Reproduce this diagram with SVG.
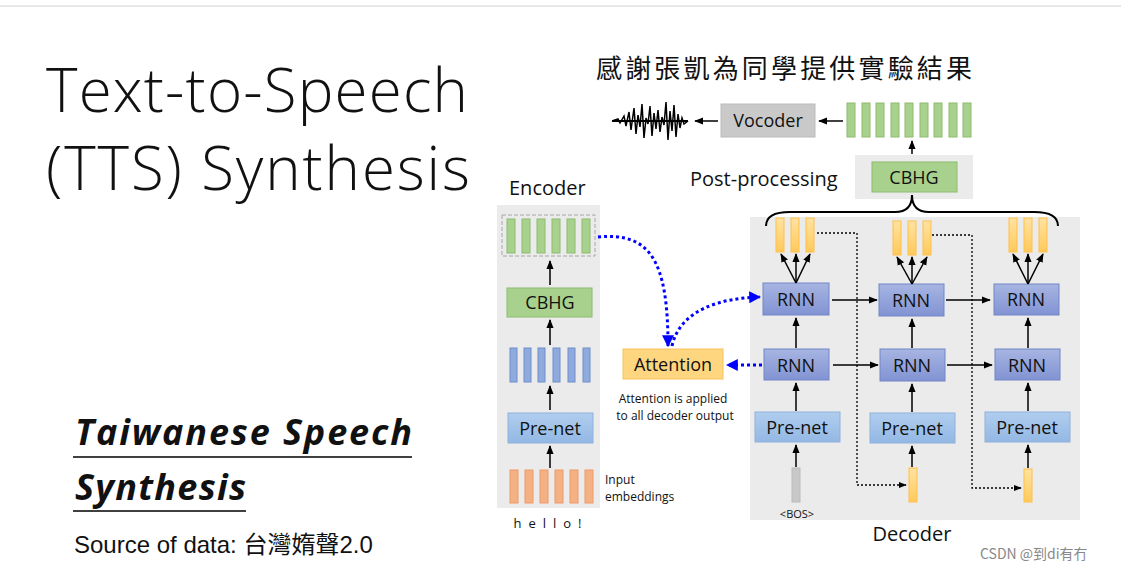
<svg xmlns="http://www.w3.org/2000/svg" width="1121" height="572" viewBox="0 0 1121 572">
<defs>
<marker id="ah" viewBox="0 0 10 10" refX="9" refY="5" markerWidth="6" markerHeight="6" orient="auto"><path d="M0,1 L10,5 L0,9 z" fill="#000"/></marker>
<marker id="bh" viewBox="0 0 10 10" refX="9" refY="5" markerWidth="4" markerHeight="4" orient="auto"><path d="M0,0 L10,5 L0,10 z" fill="#0000ff"/></marker>
<linearGradient id="rg" x1="0" y1="0" x2="0" y2="1"><stop offset="0" stop-color="#a7b5e2"/><stop offset="1" stop-color="#8193d3"/></linearGradient>
<linearGradient id="pg" x1="0" y1="0" x2="0" y2="1"><stop offset="0" stop-color="#b0cdee"/><stop offset="1" stop-color="#93b8e4"/></linearGradient>
<linearGradient id="yg" x1="0" y1="0" x2="0" y2="1"><stop offset="0" stop-color="#ffe3a0"/><stop offset="1" stop-color="#ffc95c"/></linearGradient>
</defs>
<style>
text{font-family:"Open Sans","Noto Sans CJK TC",sans-serif;fill:#111}
.c{text-anchor:middle}
.rnn{fill:url(#rg);stroke:#7285c6;stroke-width:1}
.pre{fill:url(#pg);stroke:#8fb1dc;stroke-width:1}
.gb{fill:#a9d18e;stroke:#8cbc6e;stroke-width:1}
.bb{fill:#8faadc;stroke:#6f8fcc;stroke-width:1}
.ob{fill:#f4b183;stroke:#f09a66;stroke-width:1}
.yb{fill:url(#yg);stroke:#ffc04a;stroke-width:1}
.a{stroke:#000;stroke-width:1.5;fill:none;marker-end:url(#ah)}
.d{stroke:#000;stroke-width:1.3;fill:none;stroke-dasharray:2 2;marker-end:url(#ah)}
.bl{stroke:#0000ff;stroke-width:3;fill:none;stroke-dasharray:3 3;marker-end:url(#bh)}
.bt{font-size:18px}
</style>
<rect width="1121" height="572" fill="#fff"/>
<line x1="0" y1="6" x2="1121" y2="6" stroke="#d0d0d0"/>
<text x="46" y="112" font-size="60" font-weight="300" textLength="422">Text-to-Speech</text>
<text x="46" y="190" font-size="60" font-weight="300" textLength="424">(TTS) Synthesis</text>
<text x="75" y="445" font-size="36" font-weight="bold" font-style="italic" textLength="337">Taiwanese Speech</text>
<line x1="73" y1="457" x2="412" y2="457" stroke="#000" stroke-width="1.5"/>
<text x="75" y="500" font-size="36" font-weight="bold" font-style="italic" textLength="171">Synthesis</text>
<line x1="73" y1="511" x2="246" y2="511" stroke="#000" stroke-width="1.5"/>
<text x="74" y="553" font-size="24" style="font-family:'Liberation Sans','Noto Sans CJK TC',sans-serif">Source of data: 台灣媠聲2.0</text>
<text x="596" y="78" font-size="26" textLength="376" style="font-family:'Noto Sans CJK TC',sans-serif">感謝張凱為同學提供實驗結果</text>
<g id="waveform"><path d="M612,121 L618,119 L620,123 L624,116 L626,126 L629,112 L631,130 L634,108 L636,134 L638,115 L640,127 L642,104 L644,138 L646,118 L648,124 L650,106 L652,136 L654,113 L656,129 L658,110 L660,132 L662,117 L664,125 L666,102 L668,140 L670,111 L672,131 L674,105 L676,137 L678,114 L680,128 L682,118 L684,124 L688,121" stroke="#000" stroke-width="1.5" fill="none"/><line x1="612" y1="121" x2="688" y2="121" stroke="#000" stroke-width="2"/></g>
<g id="vocoder"><rect x="721" y="104" width="94" height="33" fill="#c9c9c9" stroke="#bbb"/><text x="768" y="127" class="c bt">Vocoder</text></g>
<g id="melbars">
<rect x="847" y="103" width="8" height="34" class="gb"/><rect x="862" y="103" width="8" height="34" class="gb"/><rect x="876" y="103" width="8" height="34" class="gb"/><rect x="891" y="103" width="8" height="34" class="gb"/><rect x="905" y="103" width="8" height="34" class="gb"/><rect x="920" y="103" width="8" height="34" class="gb"/><rect x="934" y="103" width="8" height="34" class="gb"/><rect x="949" y="103" width="8" height="34" class="gb"/><rect x="963" y="103" width="8" height="34" class="gb"/>
</g>
<g id="postprocessing"><rect x="855" y="155" width="118" height="44" fill="#ebebeb"/><rect x="872" y="162" width="85" height="30" class="gb"/><text x="914" y="184" class="c bt">CBHG</text>
<text x="690" y="186" font-size="20">Post-processing</text></g>
<g id="encoder">
<text x="509" y="195" font-size="20">Encoder</text>
<rect x="497" y="205" width="103" height="303" fill="#ebebeb"/>
<rect x="502" y="215" width="93" height="41" fill="none" stroke="#a6a6a6" stroke-dasharray="4 2"/>
<rect x="507" y="219" width="8" height="34" class="gb"/><rect x="522" y="219" width="8" height="34" class="gb"/><rect x="537" y="219" width="8" height="34" class="gb"/><rect x="552" y="219" width="8" height="34" class="gb"/><rect x="567" y="219" width="8" height="34" class="gb"/><rect x="582" y="219" width="8" height="34" class="gb"/>
<rect x="507" y="288" width="85" height="29" class="gb"/><text x="550" y="309" class="c bt">CBHG</text>
<rect x="510" y="348" width="7" height="34" class="bb"/><rect x="524" y="348" width="7" height="34" class="bb"/><rect x="538" y="348" width="7" height="34" class="bb"/><rect x="553" y="348" width="7" height="34" class="bb"/><rect x="568" y="348" width="7" height="34" class="bb"/><rect x="583" y="348" width="7" height="34" class="bb"/>
<rect x="508" y="413" width="85" height="30" class="pre"/><text x="550" y="435" class="c bt">Pre-net</text>
<rect x="510" y="470" width="8" height="33" class="ob"/><rect x="525" y="470" width="8" height="33" class="ob"/><rect x="540" y="470" width="8" height="33" class="ob"/><rect x="555" y="470" width="8" height="33" class="ob"/><rect x="570" y="470" width="8" height="33" class="ob"/><rect x="585" y="470" width="8" height="33" class="ob"/>
<text x="551" y="528" class="c" font-size="13" letter-spacing="7">hello!</text>
<text x="605" y="484" font-size="12">Input</text><text x="605" y="501" font-size="12">embeddings</text>
</g>
<g id="attention"><rect x="623" y="349" width="100" height="30" fill="#ffd680" stroke="#f5c25a"/><text x="673" y="371" class="c bt">Attention</text>
<text x="673" y="403" class="c" font-size="12">Attention is applied</text><text x="675" y="420" class="c" font-size="12">to all decoder output</text></g>
<g id="decoder">
<rect x="750" y="217" width="330" height="303" fill="#ebebeb"/>
<text x="912" y="541" class="c" font-size="20">Decoder</text>
<rect x="763" y="283" width="66" height="32" class="rnn"/><text x="796" y="306" class="c bt">RNN</text>
<rect x="764" y="349" width="65" height="31" class="rnn"/><text x="796" y="372" class="c bt">RNN</text>
<rect x="755" y="412" width="85" height="30" class="pre"/><text x="797" y="434" class="c bt">Pre-net</text>
<rect x="792" y="468" width="8" height="34" fill="#c8c8c8" stroke="#bbb"/><text x="797" y="518" class="c" font-size="11">&lt;BOS&gt;</text>
<rect x="879" y="284" width="65" height="32" class="rnn"/><text x="911" y="307" class="c bt">RNN</text>
<rect x="880" y="349" width="65" height="32" class="rnn"/><text x="912" y="372" class="c bt">RNN</text>
<rect x="870" y="413" width="85" height="30" class="pre"/><text x="912" y="435" class="c bt">Pre-net</text>
<rect x="909" y="468" width="8" height="34" class="yb"/>
<rect x="994" y="284" width="65" height="31" class="rnn"/><text x="1026" y="306" class="c bt">RNN</text>
<rect x="995" y="349" width="65" height="31" class="rnn"/><text x="1027" y="372" class="c bt">RNN</text>
<rect x="985" y="412" width="85" height="30" class="pre"/><text x="1027" y="434" class="c bt">Pre-net</text>
<rect x="1024" y="469" width="8" height="33" class="yb"/>
<rect x="776" y="218" width="8" height="34" class="yb"/><rect x="791" y="218" width="8" height="34" class="yb"/><rect x="806" y="218" width="8" height="34" class="yb"/>
<rect x="893" y="221" width="8" height="34" class="yb"/><rect x="908" y="221" width="8" height="34" class="yb"/><rect x="923" y="221" width="8" height="34" class="yb"/>
<rect x="1009" y="218" width="8" height="34" class="yb"/><rect x="1024" y="218" width="8" height="34" class="yb"/><rect x="1039" y="218" width="8" height="34" class="yb"/>
</g>
<g id="connectors">
<path d="M718,121 H695" class="a"/>
<path d="M843,121 H819" class="a"/>
<path d="M912,154 V141" class="a"/>
<path d="M766,226 Q766,212 790,212 L895,212 Q912,212 912,195 Q912,212 929,212 L1034,212 Q1058,212 1058,226" stroke="#000" stroke-width="2" fill="none"/>
<path d="M550,285 V261" class="a"/><path d="M550,345 V320" class="a"/><path d="M550,410 V386" class="a"/><path d="M550,468 V446" class="a"/>
<path d="M598,237 C650,232 668,260 668,346" class="bl"/>
<path d="M672,346 C680,310 720,298 760,297" class="bl"/>
<path d="M762,365 H727" class="bl"/>
<path d="M796,283 L781,254" class="a"/><path d="M796,283 V254" class="a"/><path d="M796,283 L810,254" class="a"/>
<path d="M912,284 L897,257" class="a"/><path d="M912,284 V257" class="a"/><path d="M912,284 L927,257" class="a"/>
<path d="M1028,284 L1013,254" class="a"/><path d="M1028,284 V254" class="a"/><path d="M1028,284 L1043,254" class="a"/>
<path d="M832,300 H877" class="a"/><path d="M946,300 H990" class="a"/>
<path d="M833,365 H878" class="a"/><path d="M947,365 H992" class="a"/>
<path d="M796,348 V318" class="a"/><path d="M796,411 V383" class="a"/><path d="M796,467 V445" class="a"/>
<path d="M912,348 V319" class="a"/><path d="M912,412 V384" class="a"/><path d="M912,467 V446" class="a"/>
<path d="M1028,348 V318" class="a"/><path d="M1028,411 V383" class="a"/><path d="M1028,468 V445" class="a"/>
<path d="M817,233 H857 V485 H906" class="d"/>
<path d="M932,235 H972 V488 H1021" class="d"/>
</g>
<text x="980" y="559" font-size="14" fill="#888" style="fill:#888;font-family:'Noto Sans CJK SC',sans-serif">CSDN @到di有冇</text>
</svg>
